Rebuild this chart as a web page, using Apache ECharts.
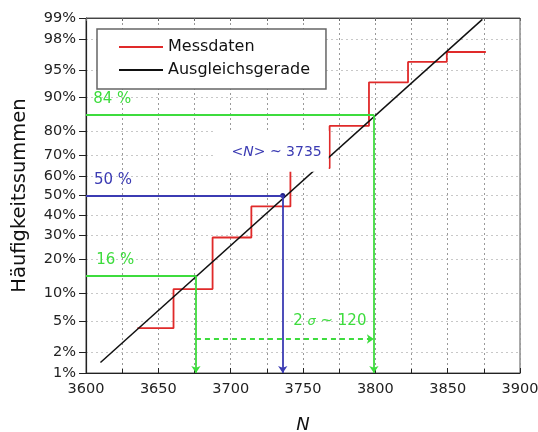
<!DOCTYPE html>
<html><head><meta charset="utf-8">
<script src="https://cdn.jsdelivr.net/npm/echarts@6/dist/echarts.min.js"></script>
<style>html,body{margin:0;padding:0;background:#fff}#c{width:538px;height:432px}</style>
</head><body><div id="c"></div>
<script>
// ---- data ----
const stepN = [3635.5, 3660.5, 3687.5, 3714.3, 3741.3, 3768.4, 3795.6, 3822.6, 3849.4, 3876.4];
const stepP = [4.1, 11.0, 29.1, 44.3, 64.0, 81.9, 93.1, 96.0, 97.0, 97.0];
const fitN = [3610, 3874];
const fitP = [1.43, 98.95];
const yTicksP = [1, 2, 5, 10, 20, 30, 40, 50, 60, 70, 80, 90, 95, 98, 99];
const xRange = [3600, 3900];
const xInterval = 50;
const guideN = [3676, 3736, 3799];      // lower, mean, upper
const guideP = [14.55, 50, 85.5];
const spanP = 3.0;
const textN = [3605, 3605.5, 3607, 3743.2];
const textP = [89.7, 58.2, 20.0, 4.94];
const boxAnchor = [3767.8, 62.2];

const RED = '#e02a2a', GREEN = '#3ddc3d', BLUE = '#3b3bb3', BLACK = '#111';

// probability scale transform (inverse normal CDF)
function probit(pp) {
  const p = pp / 100;
  const a = [-3.969683028665376e+01, 2.209460984245205e+02, -2.759285104469687e+02, 1.383577518672690e+02, -3.066479806614716e+01, 2.506628277459239e+00];
  const b = [-5.447609879822406e+01, 1.615858368580409e+02, -1.556989798598866e+02, 6.680131188771972e+01, -1.328068155288572e+01];
  const c = [-7.784894002430293e-03, -3.223964580411365e-01, -2.400758277161838e+00, -2.549732539343734e+00, 4.374664141464968e+00, 2.938163982698783e+00];
  const d = [7.784695709041462e-03, 3.224671290700398e-01, 2.445134137142996e+00, 3.754408661907416e+00];
  const pl = 0.02425, ph = 1 - pl;
  let q, r;
  if (p < pl) { q = Math.sqrt(-2 * Math.log(p)); return (((((c[0]*q+c[1])*q+c[2])*q+c[3])*q+c[4])*q+c[5]) / ((((d[0]*q+d[1])*q+d[2])*q+d[3])*q+1); }
  if (p <= ph) { q = p - 0.5; r = q*q; return (((((a[0]*r+a[1])*r+a[2])*r+a[3])*r+a[4])*r+a[5])*q / (((((b[0]*r+b[1])*r+b[2])*r+b[3])*r+b[4])*r+1); }
  q = Math.sqrt(-2 * Math.log(1 - p));
  return -(((((c[0]*q+c[1])*q+c[2])*q+c[3])*q+c[4])*q+c[5]) / ((((d[0]*q+d[1])*q+d[2])*q+d[3])*q+1);
}
const yMin = probit(yTicksP[0]), yMax = probit(yTicksP[yTicksP.length - 1]);
const yTickZ = yTicksP.map(probit);

const stepData = stepN.map((n, i) => [n, probit(stepP[i])]);
const fitData = fitN.map((n, i) => [n, probit(fitP[i])]);

const ml = (x1, p1, x2, p2, color, arrow, type) => [
  { coord: [x1, probit(p1)], symbol: 'none' },
  { coord: [x2, probit(p2)], symbol: arrow ? 'arrow' : 'none', symbolSize: 7,
    lineStyle: { color: color, width: 1.8, type: type || 'solid', opacity: 1 } }
];
const yBottomP = yTicksP[0];
const guideLines = [
  ml(xRange[0], guideP[2], guideN[2], guideP[2], GREEN, false),
  ml(guideN[2], guideP[2], guideN[2], yBottomP, GREEN, true),
  ml(xRange[0], guideP[1], guideN[1], guideP[1], BLUE, false),
  ml(guideN[1], guideP[1], guideN[1], yBottomP, BLUE, true),
  ml(xRange[0], guideP[0], guideN[0], guideP[0], GREEN, false),
  ml(guideN[0], guideP[0], guideN[0], yBottomP, GREEN, true),
  ml(guideN[0], spanP, guideN[2], spanP, GREEN, true, [5, 4])
];

const textItems = [
  { value: [textN[0], probit(textP[0])], label: { formatter: '84 %', color: GREEN } },
  { value: [textN[1], probit(textP[1])], label: { formatter: '50 %', color: BLUE } },
  { value: [textN[2], probit(textP[2])], label: { formatter: '16 %', color: GREEN } },
  { value: [textN[3], probit(textP[3])], label: { formatter: '2 {s|σ} ~ 120', color: GREEN } }
];

const chart = echarts.init(document.getElementById('c'), null, { renderer: 'canvas' });
chart.setOption({
  animation: false,
  backgroundColor: '#fff',
  textStyle: { fontFamily: 'DejaVu Sans' },
  grid: { left: 86, right: 18, top: 18, bottom: 59, show: true, borderColor: '#555', borderWidth: 1,
    containLabel: false, outerBoundsMode: 'none' },
  legend: {
    data: ['Messdaten', 'Ausgleichsgerade'],
    orient: 'vertical', left: 97, top: 29, padding: [9, 16, 10, 22],
    icon: 'rect', itemWidth: 44, itemHeight: 2, itemGap: 5,
    borderColor: '#666', borderWidth: 1.5, backgroundColor: '#fff',
    textStyle: { fontSize: 16, lineHeight: 18, color: '#111', fontFamily: 'DejaVu Sans' }
  },
  xAxis: [{
    type: 'value', min: xRange[0], max: xRange[1], interval: xInterval,
    name: 'N', nameLocation: 'middle', nameGap: 43,
    nameTextStyle: { fontSize: 18, fontStyle: 'italic', color: '#111', fontFamily: 'DejaVu Sans' },
    axisLine: { show: true, onZero: false, lineStyle: { color: '#222', width: 1.2 } },
    axisTick: { show: true, inside: true, length: 5, lineStyle: { color: '#222' } },
    minorTick: { show: true, splitNumber: 2, length: 4, lineStyle: { color: '#222' } },
    axisLabel: { fontSize: 14.5, color: '#222', margin: 9, fontFamily: 'DejaVu Sans', formatter: v => String(v) },
    splitLine: { show: true, lineStyle: { color: '#999', type: [2, 3], width: 1 } },
    minorSplitLine: { show: true, lineStyle: { color: '#999', type: [2, 3], width: 1 } }
  }, {
    type: 'value', position: 'top', min: xRange[0], max: xRange[1], interval: xInterval,
    axisLine: { show: true, onZero: false, lineStyle: { color: '#444', width: 1.2 } },
    axisTick: { show: true, inside: true, length: 3, lineStyle: { color: '#666' } },
    minorTick: { show: true, splitNumber: 2, length: 3, lineStyle: { color: '#666' } },
    axisLabel: { show: false }, splitLine: { show: false }
  }],
  yAxis: {
    type: 'value', min: yMin, max: yMax,
    name: 'Häufigkeitssummen', nameLocation: 'middle', nameGap: 56,
    nameTextStyle: { fontSize: 19.5, color: '#111', fontFamily: 'DejaVu Sans' },
    axisLine: { show: true, onZero: false, lineStyle: { color: '#222', width: 1.2 } },
    axisTick: { show: true, inside: false, length: 7, customValues: yTickZ, lineStyle: { color: '#222' } },
    axisLabel: {
      fontSize: 14.5, color: '#222', margin: 10, fontFamily: 'DejaVu Sans', customValues: yTickZ,
      formatter: v => { const i = yTickZ.findIndex(z => Math.abs(z - v) < 1e-6); return i >= 0 ? yTicksP[i] + '%' : ''; }
    },
    splitLine: { show: true, lineStyle: { color: '#c8c8c8', type: [2, 3], width: 1 } }
  },
  series: [
    {
      name: 'Messdaten', type: 'line', step: 'end', data: stepData, symbol: 'none', z: 3,
      lineStyle: { color: RED, width: 1.8 }, itemStyle: { color: RED }
    },
    {
      name: 'Ausgleichsgerade', type: 'line', data: fitData, symbol: 'none', z: 3,
      lineStyle: { color: BLACK, width: 1.5 }, itemStyle: { color: BLACK }
    },
    {
      name: 'guides', type: 'scatter', z: 4, silent: true,
      data: [[guideN[1], probit(guideP[1])]], symbol: 'circle', symbolSize: 5,
      itemStyle: { color: '#22228a', opacity: 1 },
      markLine: { silent: true, animation: false, label: { show: false }, symbol: ['none', 'none'], data: guideLines }
    },
    {
      name: 'texts', type: 'scatter', z: 6, silent: true, symbolSize: 0, data: textItems,
      itemStyle: { opacity: 1 },
      label: { show: true, position: 'right', distance: 0, fontSize: 15, fontFamily: 'DejaVu Sans',
        rich: { s: { fontSize: 13, fontStyle: 'italic', fontFamily: 'DejaVu Sans' } } }
    },
    {
      name: 'meanText', type: 'scatter', z: 10, silent: true, symbolSize: 0,
      itemStyle: { opacity: 1 },
      data: [[boxAnchor[0], probit(boxAnchor[1])]],
      label: {
        show: true, position: [0, 0], align: 'right', verticalAlign: 'bottom',
        backgroundColor: '#fff', padding: [15, 7, 12, 16],
        formatter: '{a|<}{i|N}{a|> ~ 3735}',
        rich: {
          a: { fontSize: 14, color: BLUE, fontFamily: 'DejaVu Sans' },
          i: { fontSize: 14, color: BLUE, fontStyle: 'italic', fontFamily: 'DejaVu Sans' }
        }
      }
    }
  ]
});
</script></body></html>
